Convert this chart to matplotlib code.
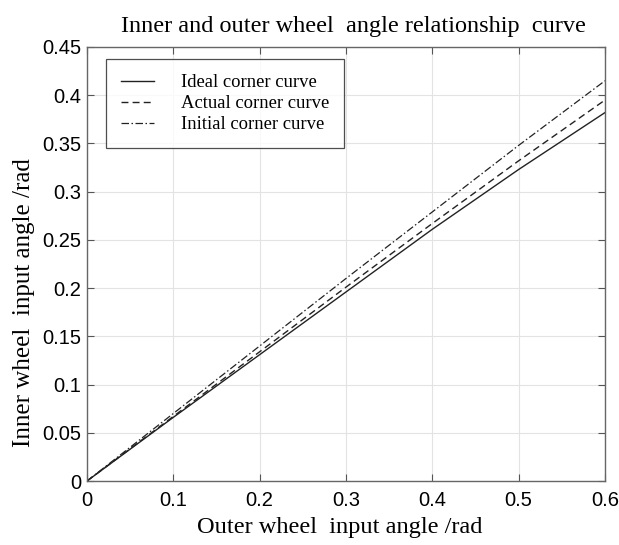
import matplotlib
matplotlib.use("Agg")
import matplotlib.pyplot as plt

outer = [0.0, 0.1, 0.2, 0.3, 0.4, 0.5, 0.6]
ideal = [0.0, 0.066, 0.131, 0.196, 0.261, 0.323, 0.382]
actual = [0.0, 0.067, 0.134, 0.201, 0.267, 0.332, 0.395]
initial = [0.0, 0.070, 0.140, 0.210, 0.279, 0.348, 0.415]

xticks = [0, 0.1, 0.2, 0.3, 0.4, 0.5, 0.6]
xticklabels = ["0", "0.1", "0.2", "0.3", "0.4", "0.5", "0.6"]
yticks = [0, 0.05, 0.1, 0.15, 0.2, 0.25, 0.3, 0.35, 0.4, 0.45]
yticklabels = ["0", "0.05", "0.1", "0.15", "0.2", "0.25", "0.3", "0.35", "0.4", "0.45"]

serif = "Liberation Serif"
sans = "Liberation Sans"

fig = plt.figure(figsize=(6.19, 5.45), dpi=100)
ax = fig.add_axes([0.1405, 0.1174, 0.8369, 0.7964])

ax.plot(outer, ideal, color="#222222", lw=1.0, ls="-", label="Ideal corner curve")
ax.plot(outer, actual, color="#222222", lw=1.0, ls=(0, (5, 3)), label="Actual corner curve")
ax.plot(outer, initial, color="#222222", lw=0.9, ls=(0, (6, 2, 1.2, 2)), label="Initial corner curve")

ax.set_xlim(0, 0.6)
ax.set_ylim(0, 0.45)
ax.set_xticks(xticks)
ax.set_xticklabels(xticklabels, fontfamily=sans, fontsize=14.5)
ax.set_yticks(yticks)
ax.set_yticklabels(yticklabels, fontfamily=sans, fontsize=14.5)
ax.tick_params(direction="in", top=True, right=True, length=5, width=0.8, color="#555555")
ax.tick_params(axis="x", pad=7)
ax.tick_params(axis="y", pad=4)
ax.grid(True, color="#e3e3e3", lw=0.8)
ax.set_axisbelow(True)
for s in ax.spines.values():
    s.set_color("#666666")
    s.set_linewidth(1.0)

ax.set_title("Inner and outer wheel  angle relationship  curve", fontfamily=serif, fontsize=17.5,
             pad=11, x=0.515)
ax.set_xlabel("Outer wheel  input angle /rad", fontfamily=serif, fontsize=17.6)
ax.xaxis.set_label_coords(0.488, -0.082)
ax.set_ylabel("Inner wheel  input angle /rad", fontfamily=serif, fontsize=18, labelpad=5)
ax.yaxis.label.set_y(0.41)

leg = ax.legend(loc="upper left", bbox_to_anchor=(0.037, 0.972), prop={"family": serif, "size": 13.4},
                frameon=True, fancybox=False, edgecolor="#222222", handlelength=1.75,
                handletextpad=1.45, borderpad=0.8, labelspacing=0.22, borderaxespad=0)
leg.get_frame().set_linewidth(0.9)

fig.savefig("out.png", dpi=100)
